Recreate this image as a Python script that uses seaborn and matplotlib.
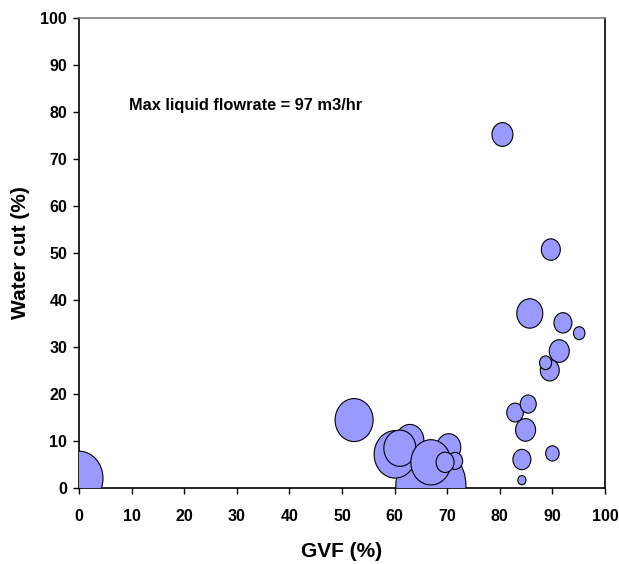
import numpy as np
import pandas as pd
import seaborn as sns
import matplotlib.pyplot as plt
from matplotlib.path import Path
from matplotlib.transforms import Affine2D

# Bubble data (GVF %, water cut %, liquid flowrate m3/hr)
gvf = [66.9, 0.0, 52.3, 62.9, 60.1, 61.0, 70.3, 66.9, 71.5, 69.6,
       80.5, 89.7, 85.7, 92.0, 95.1, 91.3, 89.5, 88.7, 82.9, 85.4,
       84.9, 84.2, 90.0, 84.2]
water_cut = [0.5, 2.0, 14.4, 10.1, 7.1, 8.4, 8.6, 5.4, 5.7, 5.4,
             75.2, 50.7, 37.1, 35.1, 32.9, 29.1, 25.0, 26.6, 16.0, 17.8,
             12.3, 6.0, 7.3, 1.6]
flowrate = [97.0, 45.6, 28.6, 15.5, 34.9, 20.3, 11.4, 31.7, 4.5, 6.4,
            8.7, 7.1, 13.4, 6.4, 2.6, 7.9, 7.1, 2.9, 5.5, 5.1,
            7.9, 6.4, 3.6, 1.3]

x_ticks = list(range(0, 101, 10))
y_ticks = list(range(0, 101, 10))

df = pd.DataFrame({"GVF": gvf, "WC": water_cut, "Q": flowrate})

sns.set_style("ticks")
plt.rcParams["font.family"] = ["Liberation Sans", "DejaVu Sans"]
plt.rcParams["font.weight"] = "bold"
plt.rcParams["text.color"] = "black"
plt.rcParams["axes.labelcolor"] = "black"
plt.rcParams["xtick.color"] = "black"
plt.rcParams["ytick.color"] = "black"

# slightly tall ellipse marker, like the Excel bubbles
bubble = Path.unit_circle().transformed(Affine2D().scale(1 / 1.13, 1.0))

fig = plt.figure(figsize=(6.19, 5.64), dpi=100)
ax = fig.add_axes([0.1276, 0.1353, 0.8498, 0.8327])

sns.scatterplot(data=df, x="GVF", y="WC", size="Q", sizes=(0, 3250),
                size_norm=(0, 97), marker=bubble, color="#9999FF",
                edgecolor="black", linewidth=0.8, alpha=1, legend=False,
                ax=ax, zorder=3)

ax.set_xlim(0, 100)
ax.set_ylim(0, 100)
ax.set_xticks(x_ticks)
ax.set_yticks(y_ticks)
ax.tick_params(axis="both", labelsize=11.5, length=4.5, width=1,
               direction="out", color="black", labelcolor="black")
ax.tick_params(axis="x", pad=11)
ax.tick_params(axis="y", pad=4)

for side in ["left", "bottom", "right"]:
    ax.spines[side].set_color("black")
    ax.spines[side].set_linewidth(1.2)
ax.spines["top"].set_visible(True)
ax.spines["right"].set_visible(True)
ax.spines["top"].set_color("#808080")
ax.spines["top"].set_linewidth(1.2)

ax.set_xlabel("GVF (%)", fontsize=15, fontweight="bold", va="center",
              color="black")
ax.set_ylabel("Water cut (%)", fontsize=15, fontweight="bold", va="center",
              color="black")
ax.xaxis.set_label_coords(0.5, -0.136)
ax.yaxis.set_label_coords(-0.112, 0.5)

ax.text(9.5, 81.3, "Max liquid flowrate = 97 m3/hr", fontsize=11.8,
        fontweight="bold", ha="left", va="center", color="black")

fig.savefig("out.png", dpi=100)
